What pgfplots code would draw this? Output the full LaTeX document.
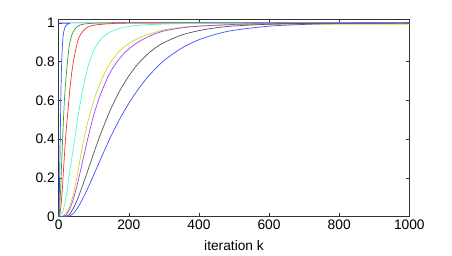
\documentclass[border=0pt]{standalone}
\usepackage{fontspec}
\setmainfont{Liberation Sans}
\usepackage{pgfplots}
\pgfplotsset{compat=1.18}
\definecolor{cblue}{RGB}{60,80,255}
\definecolor{cgreen}{RGB}{40,170,40}
\definecolor{cred}{RGB}{255,45,45}
\definecolor{ccyan}{RGB}{80,250,190}
\definecolor{cyel}{RGB}{200,215,40}
\definecolor{cpurp}{RGB}{170,60,255}
\definecolor{cblack}{RGB}{85,85,85}
\begin{document}
\begin{tikzpicture}
\path[use as bounding box] (-58.7bp,-39.3bp) rectangle (393.3bp,216.7bp);
\begin{axis}[
  at={(0,0)}, anchor=south west,
  scale only axis, width=350.6bp, height=197.7bp,
  xmin=0, xmax=1000, ymin=0, ymax=1.02,
  xtick={0,200,400,600,800,1000},
  ytick={0,0.2,0.4,0.6,0.8,1},
  yticklabels={0,0.2,0.4,0.6,0.8,1},
  tick align=inside, major tick length=3.5bp,
  axis line style={black!80, line width=0.6pt},
  every tick/.style={black!80, line width=0.5pt},
  font=\fontsize{13.8}{16}\selectfont,
  /pgf/number format/assume math mode=true,
  /pgf/number format/1000 sep={},
  yticklabel style={xshift=-0.5bp},
  xlabel={iteration k},
  xlabel style={at={(axis description cs:0.5,0)}, anchor=center, yshift=-28.8bp},
  every axis plot/.append style={line width=0.7pt, no markers, smooth, tension=0.5},
]
% blue fast
\addplot[cblue] coordinates {(0,0)(1,0.05)(2,0.13)(3,0.25)(4,0.37)(5,0.48)(6,0.6)(7,0.69)(8,0.77)(10,0.86)(12,0.92)(15,0.96)(20,0.985)(25,0.993)(30,0.997)(50,1)(1000,1)};
% green
\addplot[cgreen] coordinates {(0,0)(2,0.02)(5,0.12)(8,0.26)(11,0.39)(14,0.52)(17,0.62)(21,0.72)(25,0.8)(30,0.88)(37,0.935)(45,0.965)(56,0.985)(70,0.993)(100,0.998)(200,1)(1000,1)};
% red
\addplot[cred] coordinates {(0,0)(3,0.01)(6,0.05)(10,0.13)(14,0.25)(19,0.39)(24,0.5)(28,0.58)(32,0.66)(37,0.74)(43,0.81)(50,0.875)(57,0.92)(66,0.95)(80,0.975)(100,0.988)(150,0.996)(250,0.999)(1000,1)};
% cyan
\addplot[ccyan] coordinates {(0,0)(5,0.005)(10,0.02)(15,0.05)(21,0.1)(26,0.16)(30,0.215)(38,0.31)(45,0.394)(54,0.505)(64,0.612)(73,0.695)(86,0.79)(95,0.835)(104,0.872)(118,0.91)(133,0.937)(150,0.955)(180,0.975)(220,0.986)(255,0.991)(350,0.996)(500,0.998)(1000,0.999)};
% yellow
\addplot[cyel] coordinates {(0,0)(10,0.002)(20,0.015)(30,0.05)(40,0.105)(50,0.185)(60,0.285)(69,0.375)(78,0.45)(87,0.515)(102,0.61)(114,0.67)(126,0.722)(137,0.762)(149,0.8)(165,0.838)(180,0.866)(200,0.893)(219,0.913)(248,0.936)(276,0.952)(304,0.965)(350,0.977)(400,0.984)(500,0.99)(600,0.992)(1000,0.993)};
% purple
\addplot[cpurp] coordinates {(0,0)(10,0.001)(20,0.008)(30,0.035)(40,0.08)(50,0.145)(60,0.22)(70,0.3)(80,0.38)(90,0.455)(100,0.525)(116,0.615)(128,0.67)(140,0.72)(152,0.76)(167,0.8)(185,0.84)(200,0.865)(220,0.893)(240,0.915)(261,0.933)(280,0.947)(304,0.96)(350,0.974)(400,0.983)(500,0.992)(600,0.996)(1000,0.999)};
% black
\addplot[cblack] coordinates {(0,0)(12,0)(20,0.002)(30,0.011)(40,0.037)(50,0.075)(60,0.12)(70,0.17)(80,0.222)(90,0.275)(100,0.328)(115,0.404)(130,0.475)(150,0.561)(175,0.652)(200,0.726)(225,0.786)(250,0.833)(275,0.87)(300,0.898)(350,0.937)(400,0.96)(450,0.975)(500,0.984)(600,0.993)(700,0.997)(800,0.9985)(1000,0.9998)};
% blue slow
\addplot[cblue] coordinates {(0,0)(15,0)(25,0.001)(32,0.005)(40,0.014)(50,0.035)(60,0.064)(70,0.098)(80,0.135)(90,0.175)(100,0.216)(115,0.278)(130,0.34)(150,0.419)(175,0.507)(200,0.585)(225,0.653)(250,0.712)(275,0.762)(300,0.805)(350,0.869)(400,0.913)(450,0.942)(500,0.962)(600,0.983)(700,0.992)(800,0.9965)(1000,0.999)};
\end{axis}
\end{tikzpicture}
\end{document}
